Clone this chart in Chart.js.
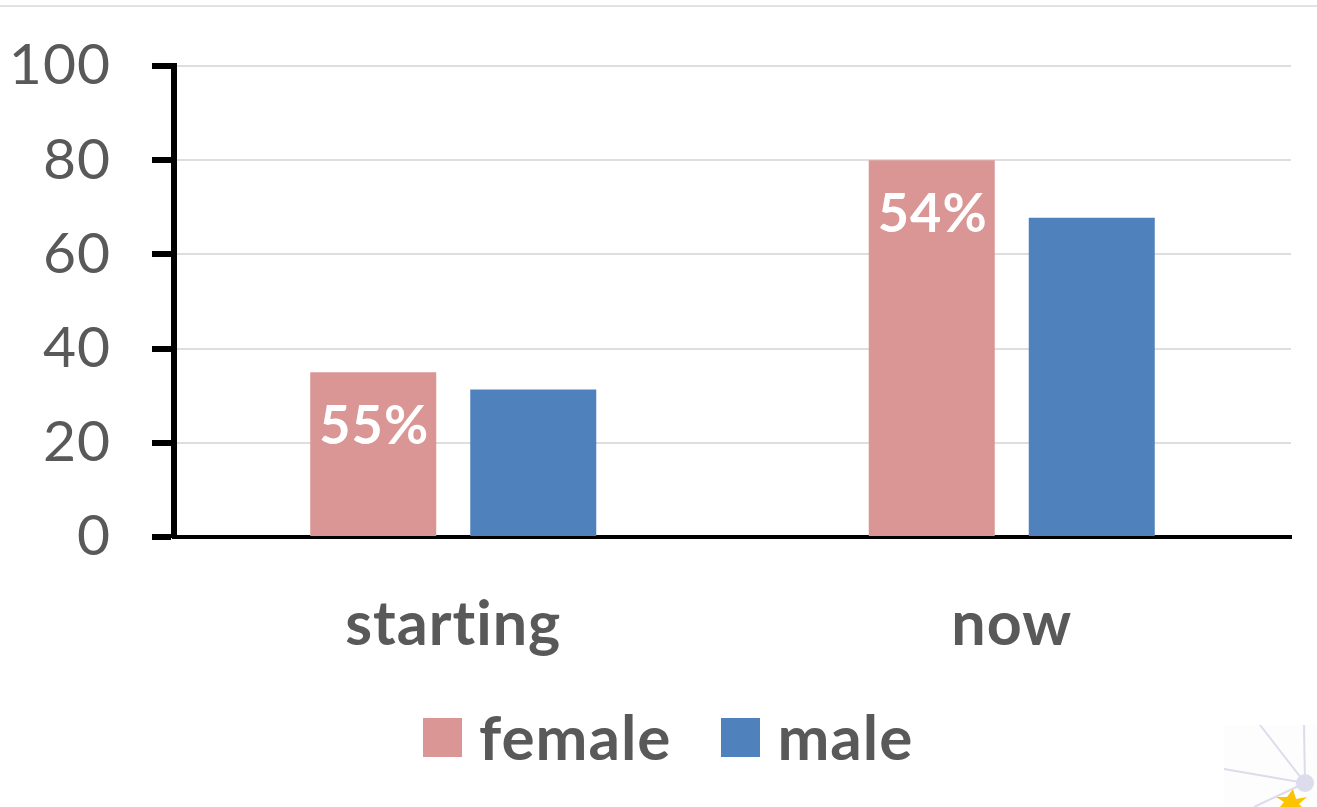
<!DOCTYPE html>
<html>
<head>
<meta charset="utf-8">
<title>starting vs now</title>
<script src="https://cdn.jsdelivr.net/npm/chart.js@4"></script>
<style>
    html, body { margin: 0; padding: 0; background: #fff; overflow: hidden; }
    #wrap { position: relative; width: 1317px; height: 807px; }
    #topLine { position: absolute; left: 0; top: 5px; width: 1317px; height: 2px; background: #e2e2e2; }
    #logo { position: absolute; left: 1224px; top: 725px; background: #fdfdfe; }
    canvas { position: absolute; left: 0; top: 0; }
    /* legend lives in the page so the box-to-text gap can match */
    #legend { position: absolute; left: 423px; top: 698px; height: 76px; display: flex; align-items: center;
              font: bold 62px Lato, Carlito, 'Open Sans', sans-serif; letter-spacing: 1px; color: #595959; }
    #legend .box { width: 39px; height: 39px; margin-right: 17px; position: relative; top: 1px; }
    #legend .item { display: flex; align-items: center; margin-right: 50px; }
</style>
</head>
<body>
<div id="wrap">
    <canvas id="chart" width="1317" height="807"></canvas>
    <div id="topLine"></div>
    <div id="legend"></div>
    <!-- corner logo cropped in the original -->
    <svg id="logo" width="93" height="82" viewBox="0 0 93 82">
        <g stroke="#dcdcec" stroke-width="2" fill="none">
            <line x1="81" y1="58" x2="36" y2="0"/>
            <line x1="81" y1="58" x2="80" y2="0"/>
            <line x1="81" y1="58" x2="0" y2="44"/>
            <line x1="81" y1="58" x2="30" y2="82"/>
        </g>
        <circle cx="81" cy="58" r="9" fill="#dcdcec"/>
        <polygon points="69,64 72,74 83,72 75,79 78,82 56,82 60,77 52,72 63,72" fill="#fcc400"/>
    </svg>
</div>
<script>
// Values
const categories = ["starting", "now"];
const seriesNames = ["female", "male"];
const femaleValues = [35, 80];
const maleValues = [31.3, 67.8];
const femaleLabels = ["55%", "54%"];
const yTicks = [0, 20, 40, 60, 80, 100];
const seriesColors = ["#d99694", "#4f81bd"];

const textColor = "#595959";
const fontName = "Lato, Carlito, 'Open Sans', sans-serif";

// Canvas text: a little tracking, Calibri has no "ti" ligature
const trackingPlugin = {
    id: "tracking",
    beforeDraw(chart) {
        chart.ctx.letterSpacing = "1px";
    }
};

// Write the percentages inside the female bars
const barLabelPlugin = {
    id: "barLabels",
    afterDatasetsDraw(chart) {
        const ctx = chart.ctx;
        const bars = chart.getDatasetMeta(0).data;
        ctx.save();
        ctx.fillStyle = "#fff";
        ctx.font = "bold 54px " + fontName;
        ctx.textAlign = "center";
        ctx.textBaseline = "middle";
        bars.forEach((bar, i) => {
            ctx.fillText(femaleLabels[i], bar.x + 1, bar.y + 54);
        });
        ctx.restore();
    }
};

new Chart(document.getElementById("chart").getContext("2d"), {
    type: "bar",
    data: {
        labels: categories,
        datasets: [
            { label: seriesNames[0], data: femaleValues, backgroundColor: seriesColors[0] },
            { label: seriesNames[1], data: maleValues, backgroundColor: seriesColors[1] }
        ]
    },
    options: {
        responsive: false,
        animation: false,
        layout: { padding: { top: 66, right: 26, bottom: 0, left: 0 } },
        datasets: {
            bar: { barPercentage: 0.7875, categoryPercentage: 0.573 }
        },
        scales: {
            x: {
                grid: { drawOnChartArea: false, drawTicks: false },
                border: { color: "#000", width: 4 },
                ticks: {
                    color: textColor,
                    padding: 52,
                    font: { family: fontName, size: 61, weight: "bold" }
                },
                afterFit(scale) { scale.height = 270; }
            },
            y: {
                min: 0,
                max: 100,
                afterBuildTicks(scale) { scale.ticks = yTicks.map(v => ({ value: v })); },
                grid: {
                    color: ctx => ctx.tick && ctx.tick.value === 0 ? "#000" : "#dedede",
                    lineWidth: 2,
                    tickColor: "#000",
                    tickWidth: 6,
                    tickLength: 22
                },
                border: { color: "#000", width: 6 },
                ticks: {
                    color: textColor,
                    padding: 41,
                    font: { family: fontName, size: 57 }
                },
                afterFit(scale) {
                    scale.width = 174;
                    scale.paddingTop = 0; // keep the 100 line at the layout padding
                }
            }
        },
        plugins: {
            tooltip: { enabled: false },
            legend: { display: false }
        }
    },
    plugins: [trackingPlugin, barLabelPlugin]
});

// Legend built from the same names and colours as the bars
const legend = document.getElementById("legend");
seriesNames.forEach((name, i) => {
    const item = document.createElement("div");
    item.className = "item";
    const box = document.createElement("div");
    box.className = "box";
    box.style.background = seriesColors[i];
    const label = document.createElement("span");
    label.innerText = name;
    item.appendChild(box);
    item.appendChild(label);
    legend.appendChild(item);
});
</script>
</body>
</html>
